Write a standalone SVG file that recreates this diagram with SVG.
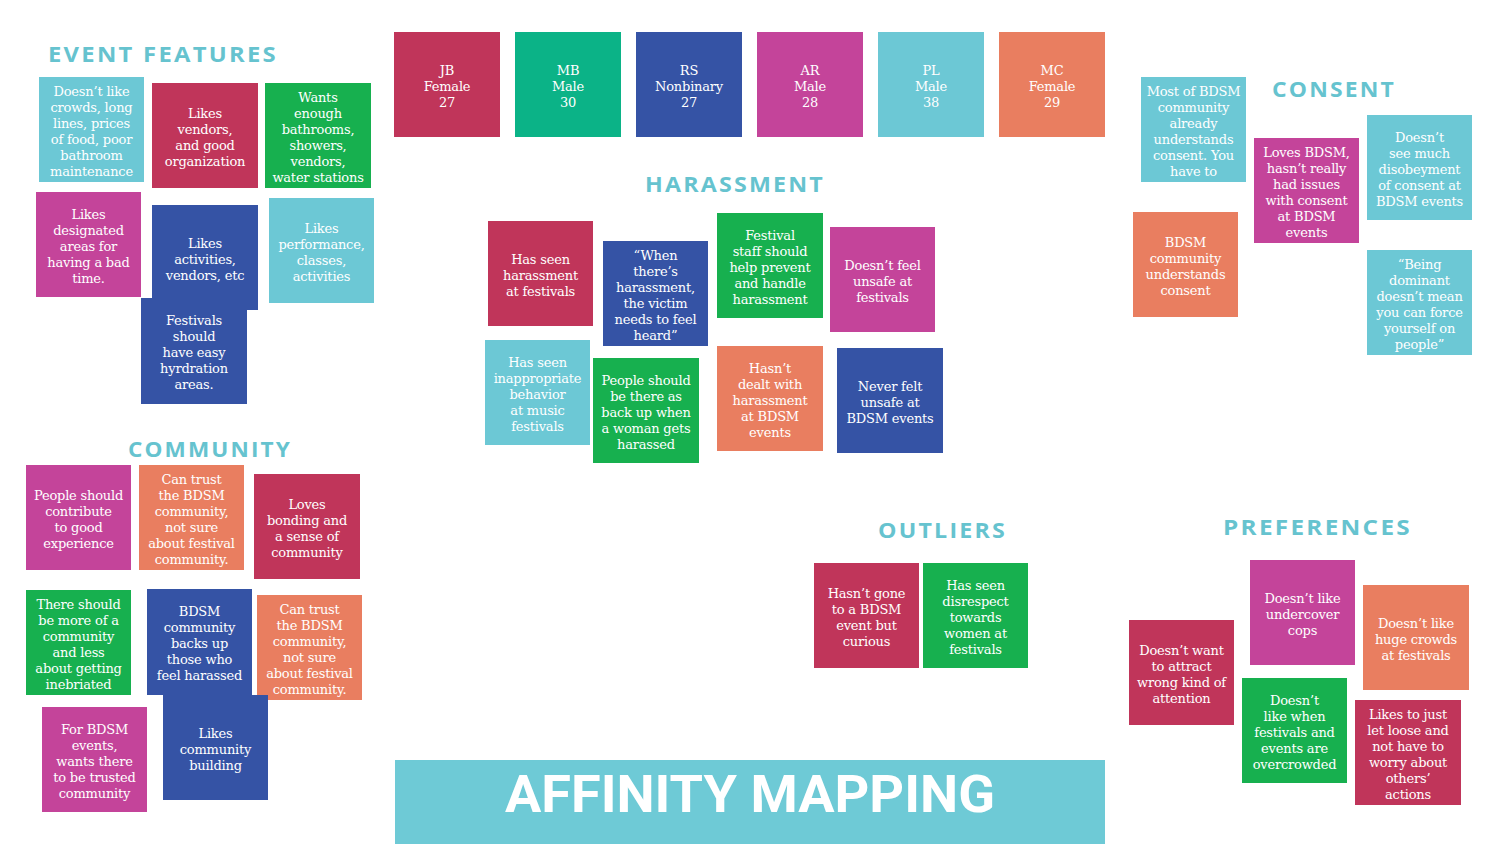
<svg xmlns="http://www.w3.org/2000/svg" width="1500" height="844" viewBox="0 0 1500 844">
<style>
.note text{font-family:"DejaVu Serif","Liberation Serif",serif;font-size:13px;fill:#ffffff;text-anchor:middle;letter-spacing:-0.2px}
.h{font-family:"Open Sans","Liberation Sans",sans-serif;font-weight:bold;font-size:21px;fill:#66c3cf;letter-spacing:2px}
.cr{fill:#c0355a}.gr{fill:#17b04f}.tg{fill:#0bb387}.bl{fill:#3553a5}.mg{fill:#c4449a}.tl{fill:#6cc8d5}.or{fill:#e97e60}
</style>
<rect width="1500" height="844" fill="#ffffff"/>
<g id="headings">
<text class="h" x="48" y="62" textLength="230" lengthAdjust="spacingAndGlyphs">EVENT FEATURES</text>
<text class="h" x="128" y="457" textLength="164" lengthAdjust="spacingAndGlyphs">COMMUNITY</text>
<text class="h" x="645" y="192" textLength="180" lengthAdjust="spacingAndGlyphs">HARASSMENT</text>
<text class="h" x="1272" y="97" textLength="124" lengthAdjust="spacingAndGlyphs">CONSENT</text>
<text class="h" x="878" y="538" textLength="129" lengthAdjust="spacingAndGlyphs">OUTLIERS</text>
<text class="h" x="1223" y="535" textLength="189" lengthAdjust="spacingAndGlyphs">PREFERENCES</text>
</g>
<g id="connectors"></g>
<!-- Personas -->
<g id="p-jb" class="note"><rect class="cr" x="394" y="32" width="106" height="105"/><text x="447" y="75"><tspan x="447">JB</tspan><tspan x="447" dy="16">Female</tspan><tspan x="447" dy="16">27</tspan></text></g>
<g id="p-mb" class="note"><rect class="tg" x="515" y="32" width="106" height="105"/><text x="568" y="75"><tspan x="568">MB</tspan><tspan x="568" dy="16">Male</tspan><tspan x="568" dy="16">30</tspan></text></g>
<g id="p-rs" class="note"><rect class="bl" x="636" y="32" width="106" height="105"/><text x="689" y="75"><tspan x="689">RS</tspan><tspan x="689" dy="16">Nonbinary</tspan><tspan x="689" dy="16">27</tspan></text></g>
<g id="p-ar" class="note"><rect class="mg" x="757" y="32" width="106" height="105"/><text x="810" y="75"><tspan x="810">AR</tspan><tspan x="810" dy="16">Male</tspan><tspan x="810" dy="16">28</tspan></text></g>
<g id="p-pl" class="note"><rect class="tl" x="878" y="32" width="106" height="105"/><text x="931" y="75"><tspan x="931">PL</tspan><tspan x="931" dy="16">Male</tspan><tspan x="931" dy="16">38</tspan></text></g>
<g id="p-mc" class="note"><rect class="or" x="999" y="32" width="106" height="105"/><text x="1052" y="75"><tspan x="1052">MC</tspan><tspan x="1052" dy="16">Female</tspan><tspan x="1052" dy="16">29</tspan></text></g>
<!-- Event features -->
<g id="ef1" class="note"><rect class="tl" x="39" y="77" width="105" height="105"/><text y="96"><tspan x="91.5">Doesn’t like</tspan><tspan x="91.5" dy="16">crowds, long</tspan><tspan x="91.5" dy="16">lines, prices</tspan><tspan x="91.5" dy="16">of food, poor</tspan><tspan x="91.5" dy="16">bathroom</tspan><tspan x="91.5" dy="16">maintenance</tspan></text></g>
<g id="ef2" class="note"><rect class="cr" x="152" y="83" width="106" height="105"/><text y="118"><tspan x="205">Likes</tspan><tspan x="205" dy="16">vendors,</tspan><tspan x="205" dy="16">and good</tspan><tspan x="205" dy="16">organization</tspan></text></g>
<g id="ef3" class="note"><rect class="gr" x="265" y="83" width="106" height="105"/><text y="102"><tspan x="318">Wants</tspan><tspan x="318" dy="16">enough</tspan><tspan x="318" dy="16">bathrooms,</tspan><tspan x="318" dy="16">showers,</tspan><tspan x="318" dy="16">vendors,</tspan><tspan x="318" dy="16">water stations</tspan></text></g>
<g id="ef4" class="note"><rect class="mg" x="36" y="192" width="105" height="105"/><text y="219"><tspan x="88.5">Likes</tspan><tspan x="88.5" dy="16">designated</tspan><tspan x="88.5" dy="16">areas for</tspan><tspan x="88.5" dy="16">having a bad</tspan><tspan x="88.5" dy="16">time.</tspan></text></g>
<g id="ef5" class="note"><rect class="bl" x="152" y="205" width="106" height="105"/><text y="248"><tspan x="205">Likes</tspan><tspan x="205" dy="16">activities,</tspan><tspan x="205" dy="16">vendors, etc</tspan></text></g>
<g id="ef6" class="note"><rect class="tl" x="269" y="198" width="105" height="105"/><text y="233"><tspan x="321.5">Likes</tspan><tspan x="321.5" dy="16">performance,</tspan><tspan x="321.5" dy="16">classes,</tspan><tspan x="321.5" dy="16">activities</tspan></text></g>
<g id="ef7" class="note"><rect class="bl" x="141" y="298" width="106" height="106"/><text y="325"><tspan x="194">Festivals</tspan><tspan x="194" dy="16">should</tspan><tspan x="194" dy="16">have easy</tspan><tspan x="194" dy="16">hyrdration</tspan><tspan x="194" dy="16">areas.</tspan></text></g>
<!-- Community -->
<g id="c1" class="note"><rect class="mg" x="26" y="465" width="105" height="105"/><text y="500"><tspan x="78.5">People should</tspan><tspan x="78.5" dy="16">contribute</tspan><tspan x="78.5" dy="16">to good</tspan><tspan x="78.5" dy="16">experience</tspan></text></g>
<g id="c2" class="note"><rect class="or" x="139" y="465" width="105" height="105"/><text y="484"><tspan x="191.5">Can trust</tspan><tspan x="191.5" dy="16">the BDSM</tspan><tspan x="191.5" dy="16">community,</tspan><tspan x="191.5" dy="16">not sure</tspan><tspan x="191.5" dy="16">about festival</tspan><tspan x="191.5" dy="16">community.</tspan></text></g>
<g id="c3" class="note"><rect class="cr" x="254" y="474" width="106" height="105"/><text y="509"><tspan x="307">Loves</tspan><tspan x="307" dy="16">bonding and</tspan><tspan x="307" dy="16">a sense of</tspan><tspan x="307" dy="16">community</tspan></text></g>
<g id="c4" class="note"><rect class="gr" x="26" y="590" width="105" height="105"/><text y="609"><tspan x="78.5">There should</tspan><tspan x="78.5" dy="16">be more of a</tspan><tspan x="78.5" dy="16">community</tspan><tspan x="78.5" dy="16">and less</tspan><tspan x="78.5" dy="16">about getting</tspan><tspan x="78.5" dy="16">inebriated</tspan></text></g>
<g id="c5" class="note"><rect class="bl" x="147" y="589" width="105" height="106"/><text y="616"><tspan x="199.5">BDSM</tspan><tspan x="199.5" dy="16">community</tspan><tspan x="199.5" dy="16">backs up</tspan><tspan x="199.5" dy="16">those who</tspan><tspan x="199.5" dy="16">feel harassed</tspan></text></g>
<g id="c6" class="note"><rect class="or" x="257" y="595" width="105" height="105"/><text y="614"><tspan x="309.5">Can trust</tspan><tspan x="309.5" dy="16">the BDSM</tspan><tspan x="309.5" dy="16">community,</tspan><tspan x="309.5" dy="16">not sure</tspan><tspan x="309.5" dy="16">about festival</tspan><tspan x="309.5" dy="16">community.</tspan></text></g>
<g id="c7" class="note"><rect class="mg" x="42" y="707" width="105" height="105"/><text y="734"><tspan x="94.5">For BDSM</tspan><tspan x="94.5" dy="16">events,</tspan><tspan x="94.5" dy="16">wants there</tspan><tspan x="94.5" dy="16">to be trusted</tspan><tspan x="94.5" dy="16">community</tspan></text></g>
<g id="c8" class="note"><rect class="bl" x="163" y="695" width="105" height="105"/><text y="738"><tspan x="215.5">Likes</tspan><tspan x="215.5" dy="16">community</tspan><tspan x="215.5" dy="16">building</tspan></text></g>
<!-- Harassment -->
<g id="h1" class="note"><rect class="cr" x="488" y="221" width="105" height="105"/><text y="264"><tspan x="540.5">Has seen</tspan><tspan x="540.5" dy="16">harassment</tspan><tspan x="540.5" dy="16">at festivals</tspan></text></g>
<g id="h2" class="note"><rect class="bl" x="603" y="241" width="105" height="105"/><text y="260"><tspan x="655.5">“When</tspan><tspan x="655.5" dy="16">there’s</tspan><tspan x="655.5" dy="16">harassment,</tspan><tspan x="655.5" dy="16">the victim</tspan><tspan x="655.5" dy="16">needs to feel</tspan><tspan x="655.5" dy="16">heard”</tspan></text></g>
<g id="h3" class="note"><rect class="gr" x="717" y="213" width="106" height="105"/><text y="240"><tspan x="770">Festival</tspan><tspan x="770" dy="16">staff should</tspan><tspan x="770" dy="16">help prevent</tspan><tspan x="770" dy="16">and handle</tspan><tspan x="770" dy="16">harassment</tspan></text></g>
<g id="h4" class="note"><rect class="mg" x="830" y="227" width="105" height="105"/><text y="270"><tspan x="882.5">Doesn’t feel</tspan><tspan x="882.5" dy="16">unsafe at</tspan><tspan x="882.5" dy="16">festivals</tspan></text></g>
<g id="h5" class="note"><rect class="tl" x="485" y="340" width="105" height="105"/><text y="367"><tspan x="537.5">Has seen</tspan><tspan x="537.5" dy="16">inappropriate</tspan><tspan x="537.5" dy="16">behavior</tspan><tspan x="537.5" dy="16">at music</tspan><tspan x="537.5" dy="16">festivals</tspan></text></g>
<g id="h6" class="note"><rect class="gr" x="593" y="358" width="106" height="105"/><text y="385"><tspan x="646">People should</tspan><tspan x="646" dy="16">be there as</tspan><tspan x="646" dy="16">back up when</tspan><tspan x="646" dy="16">a woman gets</tspan><tspan x="646" dy="16">harassed</tspan></text></g>
<g id="h7" class="note"><rect class="or" x="717" y="346" width="106" height="105"/><text y="373"><tspan x="770">Hasn’t</tspan><tspan x="770" dy="16">dealt with</tspan><tspan x="770" dy="16">harassment</tspan><tspan x="770" dy="16">at BDSM</tspan><tspan x="770" dy="16">events</tspan></text></g>
<g id="h8" class="note"><rect class="bl" x="837" y="348" width="106" height="105"/><text y="391"><tspan x="890">Never felt</tspan><tspan x="890" dy="16">unsafe at</tspan><tspan x="890" dy="16">BDSM events</tspan></text></g>
<!-- Consent -->
<g id="s1" class="note"><rect class="tl" x="1141" y="77" width="105" height="105"/><text y="96"><tspan x="1193.5">Most of BDSM</tspan><tspan x="1193.5" dy="16">community</tspan><tspan x="1193.5" dy="16">already</tspan><tspan x="1193.5" dy="16">understands</tspan><tspan x="1193.5" dy="16">consent. You</tspan><tspan x="1193.5" dy="16">have to</tspan></text></g>
<g id="s2" class="note"><rect class="mg" x="1254" y="138" width="105" height="105"/><text y="157"><tspan x="1306.5">Loves BDSM,</tspan><tspan x="1306.5" dy="16">hasn’t really</tspan><tspan x="1306.5" dy="16">had issues</tspan><tspan x="1306.5" dy="16">with consent</tspan><tspan x="1306.5" dy="16">at BDSM</tspan><tspan x="1306.5" dy="16">events</tspan></text></g>
<g id="s3" class="note"><rect class="tl" x="1367" y="115" width="105" height="105"/><text y="142"><tspan x="1419.5">Doesn’t</tspan><tspan x="1419.5" dy="16">see much</tspan><tspan x="1419.5" dy="16">disobeyment</tspan><tspan x="1419.5" dy="16">of consent at</tspan><tspan x="1419.5" dy="16">BDSM events</tspan></text></g>
<g id="s4" class="note"><rect class="or" x="1133" y="212" width="105" height="105"/><text y="247"><tspan x="1185.5">BDSM</tspan><tspan x="1185.5" dy="16">community</tspan><tspan x="1185.5" dy="16">understands</tspan><tspan x="1185.5" dy="16">consent</tspan></text></g>
<g id="s5" class="note"><rect class="tl" x="1367" y="250" width="105" height="105"/><text y="269"><tspan x="1419.5">“Being</tspan><tspan x="1419.5" dy="16">dominant</tspan><tspan x="1419.5" dy="16">doesn’t mean</tspan><tspan x="1419.5" dy="16">you can force</tspan><tspan x="1419.5" dy="16">yourself on</tspan><tspan x="1419.5" dy="16">people”</tspan></text></g>
<!-- Outliers -->
<g id="o1" class="note"><rect class="cr" x="814" y="563" width="105" height="105"/><text y="598"><tspan x="866.5">Hasn’t gone</tspan><tspan x="866.5" dy="16">to a BDSM</tspan><tspan x="866.5" dy="16">event but</tspan><tspan x="866.5" dy="16">curious</tspan></text></g>
<g id="o2" class="note"><rect class="gr" x="923" y="563" width="105" height="105"/><text y="590"><tspan x="975.5">Has seen</tspan><tspan x="975.5" dy="16">disrespect</tspan><tspan x="975.5" dy="16">towards</tspan><tspan x="975.5" dy="16">women at</tspan><tspan x="975.5" dy="16">festivals</tspan></text></g>
<!-- Preferences -->
<g id="pr1" class="note"><rect class="mg" x="1250" y="560" width="105" height="105"/><text y="603"><tspan x="1302.5">Doesn’t like</tspan><tspan x="1302.5" dy="16">undercover</tspan><tspan x="1302.5" dy="16">cops</tspan></text></g>
<g id="pr2" class="note"><rect class="or" x="1363" y="585" width="106" height="105"/><text y="628"><tspan x="1416">Doesn’t like</tspan><tspan x="1416" dy="16">huge crowds</tspan><tspan x="1416" dy="16">at festivals</tspan></text></g>
<g id="pr3" class="note"><rect class="cr" x="1129" y="620" width="105" height="105"/><text y="655"><tspan x="1181.5">Doesn’t want</tspan><tspan x="1181.5" dy="16">to attract</tspan><tspan x="1181.5" dy="16">wrong kind of</tspan><tspan x="1181.5" dy="16">attention</tspan></text></g>
<g id="pr4" class="note"><rect class="gr" x="1242" y="678" width="105" height="105"/><text y="705"><tspan x="1294.5">Doesn’t</tspan><tspan x="1294.5" dy="16">like when</tspan><tspan x="1294.5" dy="16">festivals and</tspan><tspan x="1294.5" dy="16">events are</tspan><tspan x="1294.5" dy="16">overcrowded</tspan></text></g>
<g id="pr5" class="note"><rect class="cr" x="1355" y="700" width="106" height="105"/><text y="719"><tspan x="1408">Likes to just</tspan><tspan x="1408" dy="16">let loose and</tspan><tspan x="1408" dy="16">not have to</tspan><tspan x="1408" dy="16">worry about</tspan><tspan x="1408" dy="16">others’</tspan><tspan x="1408" dy="16">actions</tspan></text></g>
<!-- Title banner -->
<g id="title">
<rect x="395" y="760" width="710" height="84" fill="#6ecad6"/>
<text x="505" y="812" textLength="490" lengthAdjust="spacingAndGlyphs" font-family="Roboto, 'Liberation Sans', sans-serif" font-weight="bold" font-size="51" fill="#ffffff">AFFINITY MAPPING</text>
</g>
</svg>
